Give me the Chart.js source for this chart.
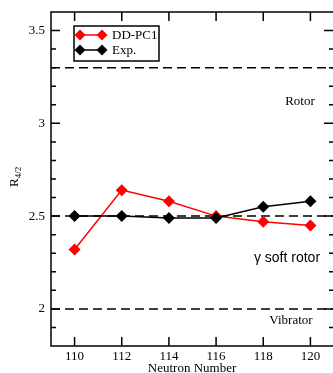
<!DOCTYPE html>
<html>
<head>
<meta charset="utf-8">
<script src="https://cdn.jsdelivr.net/npm/chart.js@4"></script>
<style>
  html, body { margin: 0; padding: 0; background: #fff; overflow: hidden; }
  #wrap { width: 333px; height: 373px; overflow: hidden; }
</style>
</head>
<body>
<div id="wrap"><canvas id="chartR42" width="340" height="373"></canvas></div>
<script>
// neutron numbers and R4/2 values
const neutrons = [110, 112, 114, 116, 118, 120];
const ddpc1 = [2.32, 2.64, 2.58, 2.50, 2.47, 2.45];
const expt = [2.50, 2.50, 2.49, 2.49, 2.55, 2.58];
const xTicks = [110, 112, 114, 116, 118, 120];
const yTicks = [2, 2.5, 3, 3.5];
const yMinor = [1.9, 2.1, 2.2, 2.3, 2.4, 2.6, 2.7, 2.8, 2.9, 3.1, 3.2, 3.3, 3.4];
const limits = [3.3, 2.5, 2.0];
const limitNames = ['Rotor', 'γ soft rotor', 'Vibrator'];
const seriesNames = ['DD-PC1', 'Exp.'];

const serif = "'Liberation Serif', 'Times New Roman', serif";
const sans = "'Liberation Sans', Arial, sans-serif";

function pts(ys) {
    return neutrons.map((n, i) => ({ x: n, y: ys[i] }));
}

const dashed = limits.map(v => ({
    data: [{ x: 109, y: v }, { x: 121, y: v }],
    borderColor: '#000',
    borderWidth: 1.5,
    borderDash: [9, 5],
    pointRadius: 0,
    order: 3
}));

// inward ticks, frame, legend box and the text labels
const decor = {
    id: 'decor',
    afterDraw(chart) {
        const ctx = chart.ctx;
        const a = chart.chartArea;
        const xs = chart.scales.x;
        const ys = chart.scales.y;
        ctx.save();
        ctx.strokeStyle = '#000';
        ctx.lineWidth = 1.5;
        ctx.strokeRect(a.left, a.top, a.right - a.left, a.bottom - a.top);
        ctx.beginPath();
        xTicks.forEach(v => {
            const px = xs.getPixelForValue(v);
            ctx.moveTo(px, a.bottom); ctx.lineTo(px, a.bottom - 9);
            ctx.moveTo(px, a.top); ctx.lineTo(px, a.top + 9);
        });
        yTicks.forEach(v => {
            const py = ys.getPixelForValue(v);
            ctx.moveTo(a.left, py); ctx.lineTo(a.left + 9, py);
            ctx.moveTo(a.right, py); ctx.lineTo(a.right - 10, py);
        });
        yMinor.forEach(v => {
            const py = ys.getPixelForValue(v);
            ctx.moveTo(a.left, py); ctx.lineTo(a.left + 5, py);
            ctx.moveTo(a.right, py); ctx.lineTo(a.right - 5, py);
        });
        ctx.stroke();

        // legend
        ctx.lineWidth = 1.5;
        ctx.strokeRect(74, 26, 85, 35);
        const legendSets = [chart.data.datasets[0], chart.data.datasets[1]];
        legendSets.forEach((ds, i) => {
            const y = 35 + i * 15;
            ctx.strokeStyle = ds.borderColor;
            ctx.fillStyle = ds.backgroundColor;
            ctx.lineWidth = 1.5;
            ctx.beginPath(); ctx.moveTo(80, y); ctx.lineTo(102, y); ctx.stroke();
            [80, 102].forEach(cx => {
                ctx.beginPath();
                ctx.moveTo(cx, y - 5.5); ctx.lineTo(cx + 5.5, y);
                ctx.lineTo(cx, y + 5.5); ctx.lineTo(cx - 5.5, y);
                ctx.closePath(); ctx.fill();
            });
            ctx.fillStyle = '#000';
            ctx.font = '13px ' + serif;
            ctx.textAlign = 'left';
            ctx.textBaseline = 'middle';
            ctx.fillText(seriesNames[i], 112, y + 1);
        });

        // regime labels
        ctx.fillStyle = '#000';
        ctx.textAlign = 'center';
        ctx.textBaseline = 'middle';
        ctx.font = '13px ' + serif;
        ctx.fillText(limitNames[0], 300, 102);
        ctx.font = '14px ' + sans;
        ctx.fillText(limitNames[1], 287, 258);
        ctx.font = '13px ' + serif;
        ctx.fillText(limitNames[2], 291, 321);

        // axis titles
        ctx.font = '13px ' + serif;
        ctx.fillText('Neutron Number', 192, 369);
        ctx.translate(18, 187);
        ctx.rotate(-Math.PI / 2);
        ctx.textAlign = 'left';
        ctx.textBaseline = 'alphabetic';
        ctx.font = '13px ' + serif;
        ctx.fillText('R', 0, 0);
        const rw = ctx.measureText('R').width;
        ctx.font = '9px ' + serif;
        ctx.fillText('4/2', rw, 3);
        ctx.restore();
    }
};

new Chart(document.getElementById('chartR42'), {
    type: 'line',
    data: {
        datasets: [{
            label: seriesNames[0],
            data: pts(ddpc1),
            borderColor: '#ff0000',
            backgroundColor: '#ff0000',
            borderWidth: 1.5,
            pointStyle: 'rectRot',
            pointRadius: 6,
            pointBorderWidth: 0,
            order: 2
        }, {
            label: seriesNames[1],
            data: pts(expt),
            borderColor: '#000',
            backgroundColor: '#000',
            borderWidth: 1.5,
            pointStyle: 'rectRot',
            pointRadius: 6,
            pointBorderWidth: 0,
            order: 1
        }, ...dashed]
    },
    options: {
        responsive: false,
        animation: false,
        layout: { padding: { top: 12, right: 2, left: 0, bottom: 0 } },
        plugins: { legend: { display: false }, tooltip: { enabled: false } },
        scales: {
            x: {
                type: 'linear',
                min: 109,
                max: 121,
                afterBuildTicks: s => { s.ticks = xTicks.map(v => ({ value: v })); },
                afterFit: s => { s.height = 27; s.paddingLeft = 0; s.paddingRight = 0; },
                grid: { display: false, drawTicks: false },
                border: { display: false },
                ticks: { color: '#000', font: { family: serif, size: 13 }, padding: 3, maxRotation: 0 }
            },
            y: {
                min: 1.8,
                max: 3.6,
                afterBuildTicks: s => { s.ticks = yTicks.map(v => ({ value: v })); },
                afterFit: s => { s.width = 51; s.paddingTop = 0; s.paddingBottom = 0; },
                grid: { display: false, drawTicks: false },
                border: { display: false },
                ticks: { color: '#000', font: { family: serif, size: 13 }, padding: 6, callback: v => String(v) }
            }
        }
    },
    plugins: [decor]
});
</script>
</body>
</html>
